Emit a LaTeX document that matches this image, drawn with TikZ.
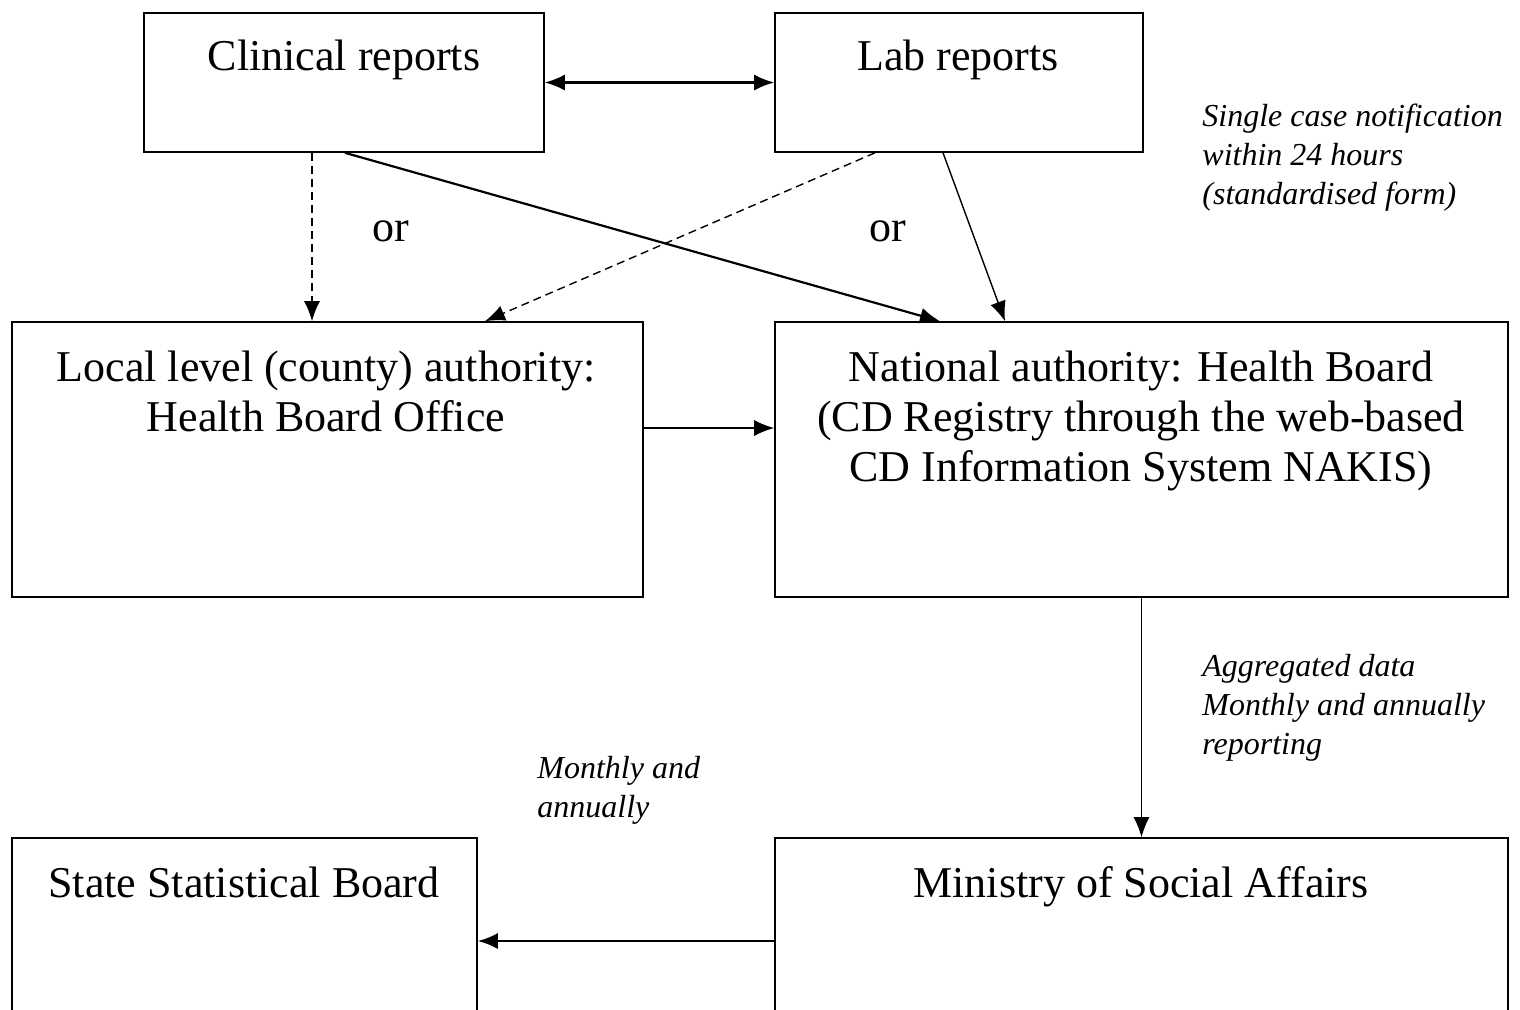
\documentclass[tikz,border=0pt]{standalone}
\usepackage{fontspec}
\setmainfont{Liberation Serif}
\usetikzlibrary{positioning,arrows.meta}
\tikzset{
  box/.style={draw, line width=0.8pt, inner sep=0pt},
  boxtext/.style={font=\fontsize{22}{25}\selectfont, align=center, inner sep=0pt},
  note/.style={font=\fontsize{16}{19.5}\selectfont\itshape, align=left, inner sep=0pt, anchor=north west},
  link/.style={line width=0.7pt, -{Latex[length=10pt,width=8pt]}},
  thicklink/.style={link, line width=1.1pt},
  dashlink/.style={link, dash pattern=on 4pt off 2.5pt},
}
\begin{document}
\begin{tikzpicture}[x=0.5pt,y=-0.5pt]
\clip (0,0) rectangle (1520,1009);
\node[box, minimum width=200pt, minimum height=69.5pt] (clin) at (344,82.5) {};
\node[box, minimum width=184pt, minimum height=69.5pt] (lab) at (959,82.5) {};
\node[box, minimum width=315.5pt, minimum height=137.5pt] (local) at (327.5,459.5) {};
\node[box, minimum width=366.5pt, minimum height=137.5pt] (nat) at (1141.5,459.5) {};
\node[box, minimum width=232.5pt, minimum height=101pt] (state) at (244.5,939) {};
\node[box, minimum width=366.5pt, minimum height=101pt] (min) at (1141.5,939) {};
\node[boxtext, anchor=base] (clintext) at (344,70) {Clinical reports};
\node[boxtext, anchor=base] (labtext) at (958,70) {Lab reports};
\node[boxtext, anchor=north] (localtext) at (326,351) {Local level (county) authority:\\Health Board Office};
\node[boxtext, anchor=north] (nattext) at (1141,351) {National authority: Health Board\\(CD Registry through the web-based\\CD Information System NAKIS)};
\node[boxtext, anchor=base] (statetext) at (244,897) {State Statistical Board};
\node[boxtext, anchor=base] (mintext) at (1141,897) {Ministry of Social Affairs};
\node[boxtext, anchor=base] (or1) at (391,241) {or};
\node[boxtext, anchor=base] (or2) at (888,241) {or};
\node[note] (single) at (1202,104) {Single case notification\\within 24 hours\\(standardised form)};
\node[note] (aggr) at (1202,654) {Aggregated data\\Monthly and annually\\reporting};
\node[note] (monthly) at (537,756) {Monthly and\\annually};
\draw[thicklink, {Latex[length=10pt,width=8pt]}-{Latex[length=10pt,width=8pt]}] (clin.east) -- (lab.west);
\draw[dashlink] (clin.south -| 312,0) -- (local.north -| 312,0);
\draw[thicklink] (clin.south -| 345,0) -- (nat.north -| 940,0);
\draw[dashlink] (lab.south -| 875,0) -- (local.north -| 485,0);
\draw[link] (lab.south -| 943,0) -- (nat.north -| 1005,0);
\draw[link] (local.east |- 0,428) -- (nat.west |- 0,428);
\draw[link] (nat.south) -- (min.north);
\draw[thicklink] (min.west |- 0,941) -- (state.east |- 0,941);
\end{tikzpicture}
\end{document}
